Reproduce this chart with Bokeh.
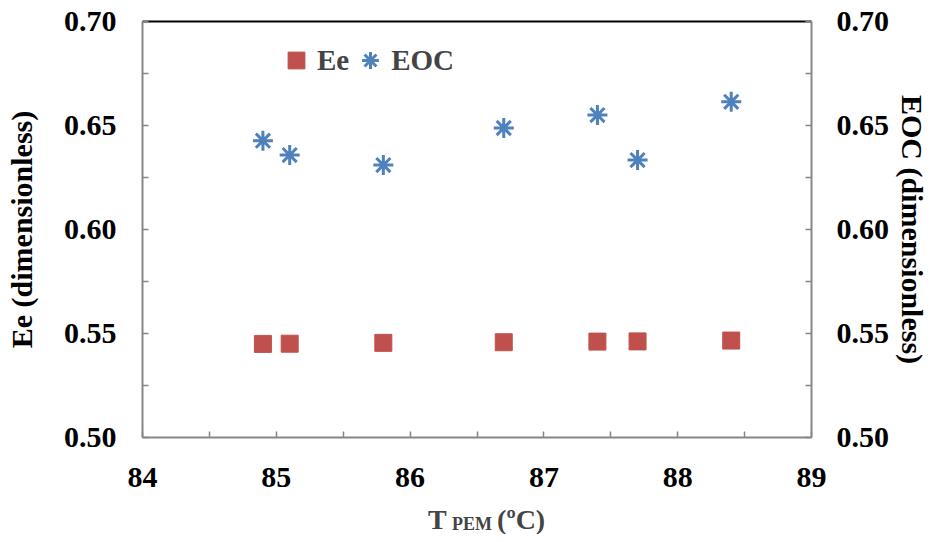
from bokeh.plotting import figure
from bokeh.layouts import column
from bokeh.models import (LinearAxis, Range1d, FixedTicker, Legend, LegendItem, Label)
from bokeh.embed import file_html
from bokeh.resources import INLINE

# ---- data ----
t_pem = [84.9, 85.1, 85.8, 86.7, 87.4, 87.7, 88.4]
ee = [0.5450, 0.5451, 0.5455, 0.5458, 0.5461, 0.5462, 0.5466]
eoc = [0.6427, 0.6358, 0.6310, 0.6488, 0.6550, 0.6334, 0.6614]

x_ticks = [84, 85, 86, 87, 88, 89]
x_minor = [84.5, 85.5, 86.5, 87.5, 88.5]
y_ticks = [0.50, 0.55, 0.60, 0.65, 0.70]
y_minor = [0.525, 0.575, 0.625, 0.675]

FONT = "Liberation Serif"
GRAY = "#868686"
RED = "#C0504D"
BLUE = "#4F81BD"

W = 932
x_range = Range1d(84, 89)
p = figure(width=W, height=500, output_backend="svg", toolbar_location=None,
           x_range=x_range, y_range=Range1d(0.50, 0.70),
           min_border_left=142, min_border_right=121, min_border_top=21,
           min_border_bottom=63, x_axis_location=None, y_axis_location=None)
p.margin = (0, 0, 0, 0)
p.outline_line_color = None
p.xgrid.visible = False
p.ygrid.visible = False
p.extra_y_ranges = {"eoc": Range1d(0.50, 0.70)}


def style(ax, ticks, minor, standoff):
    ax.ticker = FixedTicker(ticks=ticks, minor_ticks=minor)
    ax.axis_line_color = GRAY
    ax.axis_line_width = 2
    ax.major_tick_line_color = GRAY
    ax.minor_tick_line_color = GRAY
    ax.major_tick_line_width = 1.5
    ax.minor_tick_line_width = 1.5
    ax.major_tick_in = 6
    ax.major_tick_out = 0
    ax.minor_tick_in = 6
    ax.minor_tick_out = 0
    ax.major_label_standoff = standoff
    ax.major_label_text_font = FONT
    ax.major_label_text_font_style = "bold"
    ax.major_label_text_font_size = "30px"
    ax.major_label_text_color = "black"
    ax.axis_label_text_font = FONT
    ax.axis_label_text_font_style = "bold"
    ax.axis_label_text_font_size = "30px"
    ax.axis_label_text_color = "black"


xaxis = LinearAxis()
style(xaxis, x_ticks, x_minor, 30)
p.add_layout(xaxis, "below")

yl = LinearAxis(axis_label="Ee (dimensionless)")
style(yl, y_ticks, y_minor, 26)
yl.axis_label_standoff = 23
yl.major_label_overrides = {v: f"{v:.2f}" for v in y_ticks}
p.add_layout(yl, "left")

yr = LinearAxis(y_range_name="eoc", axis_label="EOC (dimensionless)")
style(yr, y_ticks, y_minor, 25)
yr.axis_label_standoff = 4
yr.major_label_overrides = {v: f"{v:.2f}" for v in y_ticks}
p.add_layout(yr, "right")

top = LinearAxis(ticker=FixedTicker(ticks=[]))
top.axis_line_color = "black"
top.axis_line_width = 2
top.major_tick_line_color = None
top.minor_tick_line_color = None
top.major_label_text_font_size = "0px"
p.add_layout(top, "above")

r_ee = p.scatter(t_pem, ee, marker="square", size=17, fill_color=RED, line_color=RED)
r_eoc = p.scatter(t_pem, eoc, marker="asterisk", size=20, line_color=BLUE,
                  line_width=3, y_range_name="eoc")

legend = Legend(items=[LegendItem(label="Ee", renderers=[r_ee]),
                       LegendItem(label="EOC", renderers=[r_eoc])],
                orientation="horizontal", location=(133, 356),
                glyph_width=42, glyph_height=42, label_standoff=0, spacing=0,
                padding=0, margin=0, border_line_color=None,
                background_fill_alpha=0, label_text_font=FONT,
                label_text_font_style="bold", label_text_font_size="29px")
p.add_layout(legend)

# strip below the chart holding the x-axis title with its subscript
t = figure(width=W, height=34, output_backend="svg", toolbar_location=None,
           x_range=x_range, y_range=Range1d(0, 34),
           min_border=0, x_axis_location=None, y_axis_location=None)
t.margin = (0, 0, 0, 0)
t.outline_line_color = None
t.xgrid.visible = False
t.ygrid.visible = False
t.add_layout(Label(x=86.133, y=15, text="T", text_font=FONT, text_font_style="bold",
                   text_font_size="28px", text_baseline="alphabetic", text_align="left"))
t.add_layout(Label(x=86.313, y=11, text="PEM", text_font=FONT, text_font_style="bold",
                   text_font_size="18px", text_baseline="alphabetic", text_align="left"))
t.add_layout(Label(x=86.65, y=15, text="(ºC)", text_font=FONT, text_font_style="bold",
                   text_font_size="28px", text_baseline="alphabetic", text_align="left"))

page = column(p, t, spacing=0)
open("out.html", "w").write(file_html(page, INLINE))
